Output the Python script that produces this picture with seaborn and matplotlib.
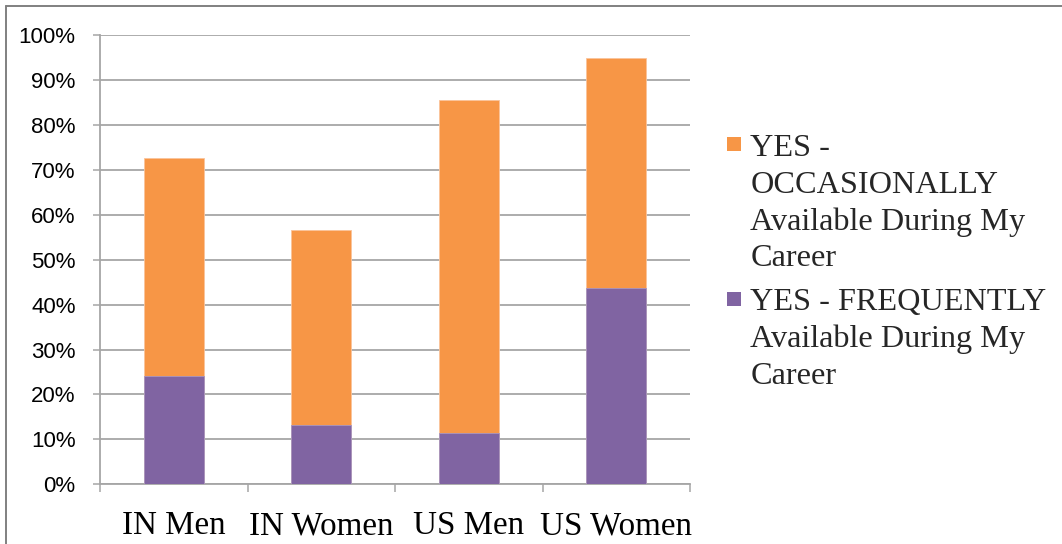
import matplotlib
matplotlib.use("Agg")
import matplotlib.pyplot as plt
from matplotlib.lines import Line2D
from matplotlib.patches import Patch, Rectangle
from matplotlib.legend_handler import HandlerPatch
from matplotlib.ticker import FixedLocator, PercentFormatter
import numpy as np
import pandas as pd
import seaborn as sns

# Survey results (% of respondents)
groups = ["IN Men", "IN Women", "US Men", "US Women"]
frequently = [24.1, 13.2, 11.4, 43.6]
occasionally = [48.6, 43.5, 74.2, 51.3]
y_ticks = [0, 10, 20, 30, 40, 50, 60, 70, 80, 90, 100]

label_occ = "YES -\nOCCASIONALLY\nAvailable During My\nCareer"
label_freq = "YES - FREQUENTLY\nAvailable During My\nCareer"

ORANGE = "#F79646"
PURPLE = "#8064A2"
GRID = "#A6A6A6"

LEGEND_SIZE = 23.2
LEGEND_LINESPACING = 1.345

sns.set_theme(style="white")
plt.rcParams["font.family"] = ["Liberation Sans", "DejaVu Sans"]

df = pd.DataFrame({
    "group": groups,
    "frequently": frequently,
    "occasionally": occasionally,
})
df["total"] = df["frequently"] + df["occasionally"]

fig = plt.figure(figsize=(10.62, 5.44), dpi=100)
ax = fig.add_axes([100 / 1062, 1 - 484.3 / 544, 590 / 1062, 449.3 / 544])

# Stacked bars: the orange segment sits on top of the purple one
sns.barplot(data=df, x="group", y="total", color=ORANGE, saturation=1,
            width=0.405, edgecolor="#FBC49A", linewidth=0.6, ax=ax, zorder=3)
sns.barplot(data=df, x="group", y="frequently", color=PURPLE, saturation=1,
            width=0.405, edgecolor="#A896C0", linewidth=0.6, ax=ax, zorder=4)

ax.set_xlim(-0.5, len(groups) - 0.5)
ax.set_ylim(0, 100)
ax.yaxis.set_major_locator(FixedLocator(y_ticks))
ax.yaxis.set_major_formatter(PercentFormatter(decimals=0))
ax.grid(axis="y", color=GRID, linewidth=1.3, zorder=0)
ax.set_axisbelow(True)
ax.set_xlabel("")
ax.set_ylabel("")

for side in ["top", "right"]:
    ax.spines[side].set_visible(False)
for side in ["left", "bottom"]:
    ax.spines[side].set_color(GRID)
    ax.spines[side].set_linewidth(1.3)

ax.tick_params(axis="y", left=True, length=5, width=1.1, color=GRID,
               labelsize=16, pad=12.5, labelcolor="#000000")
ax.set_xticks(range(len(groups)))
ax.set_xticklabels(groups, fontfamily="Liberation Serif", fontsize=23.8)
ax.tick_params(axis="x", which="major", bottom=False, pad=13, labelcolor="#000000")
ax.set_xticks(np.arange(-0.5, len(groups), 1.0), minor=True)
ax.tick_params(axis="x", which="minor", bottom=True, length=6, width=1.1,
               color=GRID)


class TopAlignedSquare(HandlerPatch):
    """Legend key drawn next to the first line of a multi-line label."""

    def create_artists(self, legend, orig_handle, xdescent, ydescent,
                       width, height, fontsize, trans):
        n_lines = getattr(orig_handle, "n_lines", 1)
        step = 1.065 * fontsize * LEGEND_LINESPACING / 1.2
        shift = (n_lines - 1) / 2 * step + 0.1 * fontsize
        side = min(width, height)
        rect = Rectangle((-xdescent, -ydescent + shift),
                         side, side, facecolor=orig_handle.get_facecolor(),
                         edgecolor="none", transform=trans)
        return [rect]


h_occ = Patch(facecolor=ORANGE, edgecolor="none")
h_occ.n_lines = label_occ.count("\n") + 1
h_freq = Patch(facecolor=PURPLE, edgecolor="none")
h_freq.n_lines = label_freq.count("\n") + 1

leg = fig.legend([h_occ, h_freq], [label_occ, label_freq], loc="upper left",
                 bbox_to_anchor=(727 / 1062, 1 - 134 / 544), frameon=False,
                 prop={"family": "Liberation Serif", "size": LEGEND_SIZE},
                 handlelength=0.44, handleheight=0.44, handletextpad=0.28,
                 labelspacing=0.45, borderaxespad=0, borderpad=0,
                 handler_map={Patch: TopAlignedSquare()})
for t in leg.get_texts():
    t.set_linespacing(LEGEND_LINESPACING)

# Outer chart frame (left and top edges)
fig.add_artist(Line2D([5.5 / 1062, 5.5 / 1062], [0, 1 - 5.5 / 544],
                      transform=fig.transFigure, color="#808080", linewidth=1.4))
fig.add_artist(Line2D([5.5 / 1062, 1], [1 - 5.5 / 544, 1 - 5.5 / 544],
                      transform=fig.transFigure, color="#808080", linewidth=1.4))

fig.savefig("out.png", dpi=100, facecolor="white")
